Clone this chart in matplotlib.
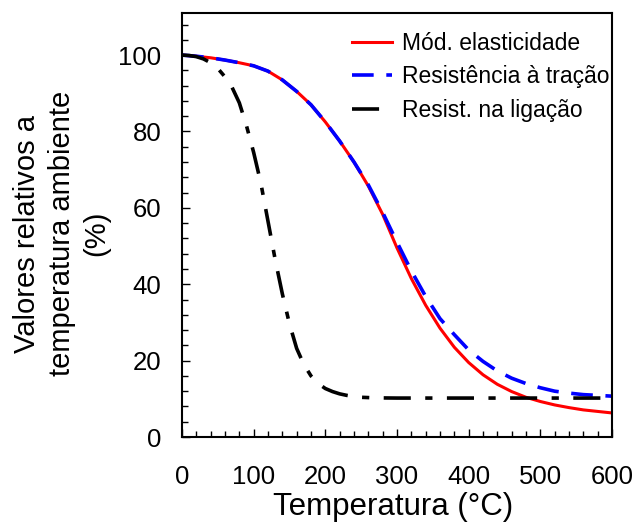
import matplotlib
matplotlib.use("Agg")
import matplotlib.pyplot as plt
from matplotlib.ticker import MultipleLocator

plt.rcParams['font.family'] = ['Liberation Sans', 'DejaVu Sans']

# valores (temperatura em C, valor relativo em %)
temp_mod = [0, 20, 40, 60, 80, 100, 120, 140, 160, 180, 200, 220, 240, 260, 280,
            300, 320, 340, 360, 380, 400, 420, 440, 460, 480, 500, 520, 540, 560,
            580, 600]
mod_elast = [100, 99.7, 99.3, 98.7, 98, 97.2, 95.8, 93.5, 90.5, 87, 82.5, 77.5, 72,
             65.7, 58.3, 49.5, 41.5, 34.5, 28.5, 23.5, 19.5, 16.3, 13.8, 11.9, 10.4,
             9.3, 8.4, 7.7, 7.1, 6.7, 6.3]

temp_trac = temp_mod
resist_trac = [100, 99.7, 99.3, 98.7, 98, 97.2, 95.8, 93.5, 90.5, 87, 82.5, 77.5, 72,
               66, 58.8, 51, 43.5, 36.8, 31, 26.8, 22.8, 19.8, 17.3, 15.4, 14, 12.9,
               12, 11.5, 11.1, 10.9, 10.7]

temp_lig = [0, 10, 20, 30, 40, 50, 60, 70, 80, 90, 100, 110, 120, 130, 140, 150,
            160, 170, 180, 190, 200, 210, 220, 230, 240, 250, 270, 300, 600]
resist_lig = [100, 99.9, 99.6, 99, 98, 96.5, 94.3, 91.5, 87.5, 81.5, 74.5, 66.5,
              56.5, 46.5, 37.5, 29.6, 23.2, 19, 16, 14, 12.7, 11.9, 11.3, 10.9, 10.6,
              10.4, 10.25, 10.2, 10.2]

fig = plt.figure(figsize=(6.35, 5.24), dpi=100)
ax = fig.add_axes([0.2866, 0.166, 0.6772, 0.809])

ax.plot(temp_mod, mod_elast, color='#ff0000', lw=2.2, label='Mód. elasticidade')
ax.plot(temp_trac, resist_trac, color='#0000ff', lw=2.6, dashes=(6, 3.5),
        label='Resistência à tração')
ax.plot(temp_lig, resist_lig, color='black', lw=2.6, dashes=(7.5, 4, 2, 4),
        label='Resist. na ligação')

ax.set_xlim(0, 600)
ax.set_ylim(0, 111)
ax.xaxis.set_major_locator(MultipleLocator(100))
ax.xaxis.set_minor_locator(MultipleLocator(20))
ax.yaxis.set_major_locator(MultipleLocator(20))
ax.yaxis.set_minor_locator(MultipleLocator(4))
ax.tick_params(which='both', direction='in', width=1, labelsize=18.5)
ax.tick_params(which='major', length=6)
ax.tick_params(which='minor', length=4)
ax.tick_params(axis='y', pad=15)
ax.tick_params(axis='x', pad=20)
for s in ax.spines.values():
    s.set_linewidth(1.5)

ax.set_xlabel('Temperatura (°C)', fontsize=22.5)
ax.xaxis.set_label_coords(0.49, -0.13)
ax.set_ylabel('Valores relativos a\ntemperatura ambiente\n(%)', fontsize=21,
              linespacing=1.3)
ax.yaxis.set_label_coords(-0.167, 0.48)

leg = ax.legend(loc='upper left', bbox_to_anchor=(0.395, 0.955), frameon=False,
                fontsize=16.5, borderpad=0, borderaxespad=0, handlelength=1.75,
                handletextpad=0.45, labelspacing=0.45)

fig.savefig('out.png', dpi=100)
